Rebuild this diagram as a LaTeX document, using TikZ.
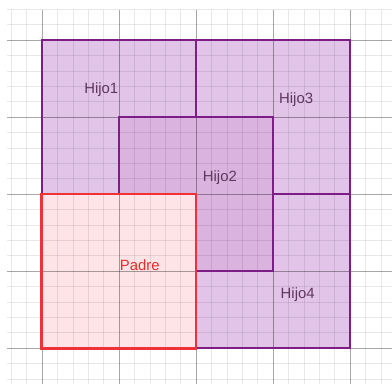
\documentclass[tikz,border=0pt]{standalone}
\usepackage{fontspec}
\setmainfont{Liberation Sans}
\usetikzlibrary{positioning}
\definecolor{hijofill}{RGB}{226,196,232}
\definecolor{hijodos}{RGB}{218,180,222}
\definecolor{hijoline}{RGB}{125,30,135}
\definecolor{hijotext}{RGB}{95,55,95}
\definecolor{padrefill}{RGB}{254,228,230}
\definecolor{padreline}{RGB}{240,50,55}
\definecolor{padretext}{RGB}{225,45,45}

\begin{document}
\begin{tikzpicture}[x=2cm, y=2cm, font=\fontsize{11}{13}\selectfont,
  hijo/.style={fill=hijofill},
  hijoc/.style={fill=hijodos},
  padre/.style={fill=padrefill},
  hijoborde/.style={draw=hijoline, line width=1.4pt},
  padreborde/.style={draw=padreline, line width=2.2pt},
  lblh/.style={text=hijotext, inner sep=1pt},
  lblp/.style={text=padretext, inner sep=1pt},
  minorgrid/.style={black, line width=0.3pt, opacity=0.09},
  majorgrid/.style={black, line width=0.4pt, opacity=0.28}]
  \useasboundingbox[fill=white] (-0.545,-0.468) rectangle (4.545,4.519);
  % rellenos
  \fill[hijo]  (0,2) rectangle (2,4);
  \fill[hijo]  (2,2) rectangle (4,4);
  \fill[hijo]  (2,0) rectangle (4,2);
  \fill[hijoc] (1,1) rectangle (3,3);
  \fill[padre] (0,0) rectangle (2,2);
  % cuadricula
  \foreach \i in {-2,...,22} {
    \draw[minorgrid] (\i*0.2,-0.468) -- (\i*0.2,4.39);
    \draw[minorgrid] (-0.455,\i*0.2) -- (4.545,\i*0.2);
  }
  \foreach \i in {0,...,4} {
    \draw[majorgrid] (\i,-0.468) -- (\i,4.39);
    \draw[majorgrid] (-0.455,\i) -- (4.545,\i);
  }
  % bordes visibles
  \draw[hijoborde] (0,0) rectangle (4,4);
  \draw[hijoborde] (2,4) -- (2,3);
  \draw[hijoborde] (3,2) -- (4,2);
  \draw[hijoborde, line width=1.7pt] (1,2) -- (1,3) -- (3,3) -- (3,1) -- (2,1);
  \draw[padreborde] (0,0) rectangle (2,2);
  % etiquetas
  \node[lblh] (h1) at (0.77,3.36) {Hijo1};
  \node[lblh] (h3) at (3.30,3.22) {Hijo3};
  \node[lblh] (h2) at (2.31,2.21) {Hijo2};
  \node[lblh] (h4) at (3.32,0.69) {Hijo4};
  \node[lblp] (pa) at (1.27,1.08) {Padre};
\end{tikzpicture}
\end{document}
